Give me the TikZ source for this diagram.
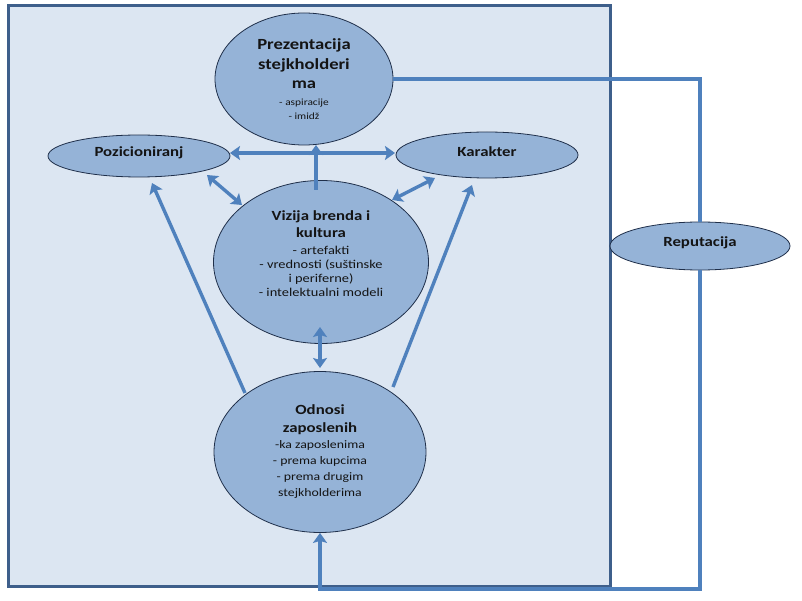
\documentclass[tikz,border=0pt]{standalone}
\usepackage{fontspec}
\setmainfont{Carlito}[FakeStretch=1.2]
\usetikzlibrary{arrows.meta,shapes.geometric,calc}
\definecolor{rectfill}{HTML}{DCE6F2}
\definecolor{rectline}{HTML}{3E5F8B}
\definecolor{ellfill}{HTML}{95B3D7}
\definecolor{ellline}{HTML}{1F2F4A}
\definecolor{arrowc}{HTML}{4F81BD}
\definecolor{txt}{HTML}{141414}
\newcommand\tf{\fontsize{14}{18}\selectfont\bfseries}
\newcommand\tfb{\fontsize{15.5}{18}\selectfont\bfseries}
\begin{document}
\begin{tikzpicture}[x=1pt,y=-1pt,
  ell/.style={ellipse,draw=ellline,line width=0.8pt,fill=ellfill,inner sep=0pt,
    align=center,text=txt},
  conn/.style={draw=arrowc,line width=3.4pt},
  tip/.style={-{Stealth[length=10pt,width=14pt,inset=2pt]}},
  tips/.style={{Stealth[length=10pt,width=14pt,inset=2pt]}-{Stealth[length=10pt,width=14pt,inset=2pt]}}]
\useasboundingbox (0,0) rectangle (802,601);
\fill[white] (0,0) rectangle (802,601);
\draw[rectline,fill=rectfill,line width=3pt] (8,6) rectangle (610,586);

\node[ell,minimum width=178pt,minimum height=132pt,font=\fontsize{9.5}{14}\selectfont] (prez) at (304,79)
  {{\tfb Prezentacija}\\[6pt]{\tfb stejkholderi}\\[5pt]{\tfb ma}\\[3pt]- aspiracije\\- imidž};
\node[ell,minimum width=182pt,minimum height=42pt,font=\tf,text depth=9pt] (poz) at (139,156) {Pozicioniranj};
\node[ell,minimum width=182pt,minimum height=46pt,font=\tf,text depth=7pt] (kar) at (487,155) {Karakter};
\node[ell,minimum width=180pt,minimum height=48pt,font=\tf,text depth=8pt] (rep) at (700,246) {Reputacija};
\node[ell,minimum width=215pt,minimum height=163pt,font=\fontsize{12}{14}\selectfont,text depth=16pt] (viz) at (321,262)
  {{\tf Vizija brenda i}\\[3pt]{\tf kultura}\\[3pt]- artefakti\\- vrednosti (suštinske\\i periferne)\\- intelektualni modeli};
\node[ell,minimum width=212pt,minimum height=161pt,font=\fontsize{11.5}{16}\selectfont] (odn) at (320,452)
  {{\tf Odnosi}\\[2pt]{\tf zaposlenih}\\-ka zaposlenima\\- prema kupcima\\- prema drugim\\stejkholderima};

\coordinate (bot) at (0,589);

\draw[conn,tips] ($(poz.center)+(91,-3)$) -- ($(kar.center)+(-92,-2)$);
\draw[conn,tip] ($(viz.center)+(-5,-72)$) -- ($(prez.center)+(12,66)$);
\draw[conn,tips] ($(poz.center)+(68,19)$) -- ($(viz.center)+(-79,-57)$);
\draw[conn,tips] ($(kar.center)+(-52,23)$) -- ($(viz.center)+(71,-62)$);
\draw[conn,tips] ($(viz.center)+(-1,65)$) -- ($(odn.center)+(0,-84)$);
\draw[conn,tip] ($(odn.center)+(-75,-59)$) -- ($(poz.center)+(13,27)$);
\draw[conn,tip] ($(odn.center)+(73,-65)$) -- ($(kar.center)+(-15,30)$);
\draw[conn] (prez.east) -| (rep.north);
\draw[conn,tip] (rep.south) -- (rep.south |- bot) -- (odn.south |- bot) -- (odn.south);
\end{tikzpicture}
\end{document}
